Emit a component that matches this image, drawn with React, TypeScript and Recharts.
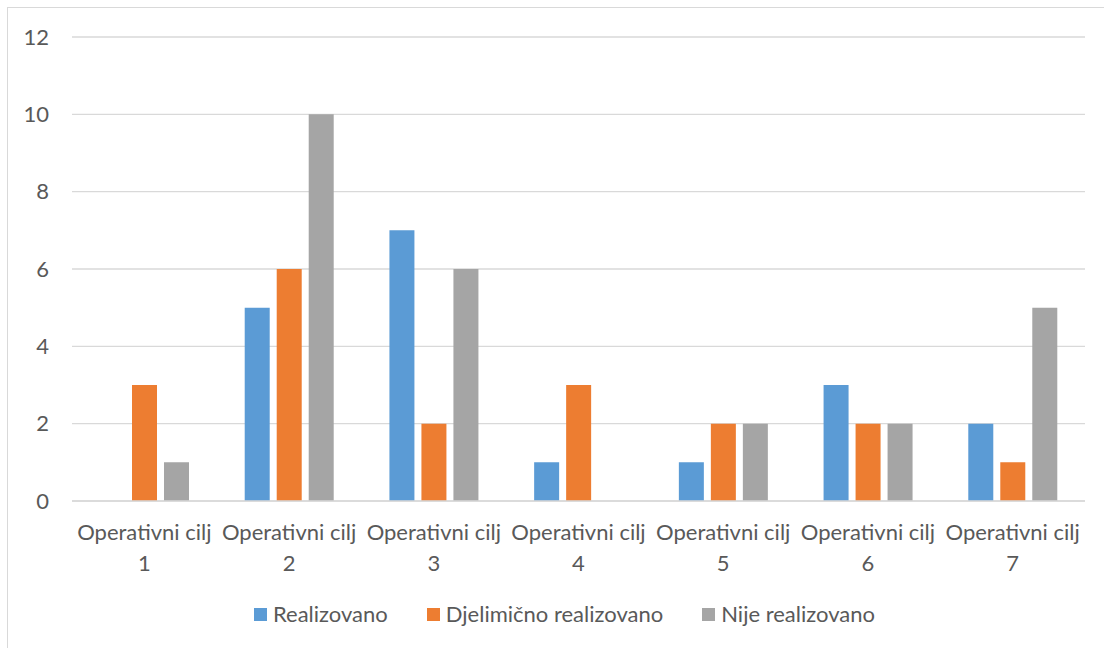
import React from 'react';
import { BarChart, Bar, XAxis, YAxis, CartesianGrid, Legend } from 'recharts';

const categories = [
  'Operativni cilj 1',
  'Operativni cilj 2',
  'Operativni cilj 3',
  'Operativni cilj 4',
  'Operativni cilj 5',
  'Operativni cilj 6',
  'Operativni cilj 7',
];
const realizovano = [0, 5, 7, 1, 1, 3, 2];
const djelimicno = [3, 6, 2, 3, 2, 2, 1];
const nijeRealizovano = [1, 10, 6, 0, 2, 2, 5];
const yTicks = [0, 2, 4, 6, 8, 10, 12];

const seriesNames = ['Realizovano', 'Djelimično realizovano', 'Nije realizovano'];
const seriesColors = ['#5B9BD5', '#ED7D31', '#A5A5A5'];

const data = categories.map((c, i) => ({
  name: c,
  r: realizovano[i],
  d: djelimicno[i],
  n: nijeRealizovano[i],
}));

const FONT = 'Lato, "Open Sans", sans-serif';
const TEXT = '#595959';
const FS = 22;

const XTick = (props: any) => {
  const { x, y, payload } = props;
  const s = String(payload.value);
  const i = s.lastIndexOf(' ');
  return (
    <text x={x} y={y} textAnchor="middle" fill={TEXT} fontSize={FS} fontFamily={FONT}>
      <tspan x={x} dy={31}>{s.slice(0, i)}</tspan>
      <tspan x={x} dy={31}>{s.slice(i + 1)}</tspan>
    </text>
  );
};

const LegendContent = () => (
  <div style={{ display: 'flex', alignItems: 'center', fontFamily: FONT, fontSize: FS, color: TEXT, paddingLeft: 254, lineHeight: '24px' }}>
    {seriesNames.map((n, i) => (
      <div key={n} style={{ display: 'flex', alignItems: 'center', marginRight: 39 }}>
        <span style={{ width: 13, height: 13, background: seriesColors[i], display: 'inline-block', marginRight: 6 }} />
        <span>{n}</span>
      </div>
    ))}
  </div>
);

export default function App() {
  return (
    <div style={{ position: 'absolute', left: 0, top: 0, width: 1104, height: 648, overflow: 'hidden', background: '#fff' }}>
      <div style={{ position: 'absolute', left: 7, top: 7, width: 1200, height: 700, border: '1px solid #D9D9D9' }} />
      <div style={{ position: 'absolute', left: 0, top: 0 }}>
        <BarChart
          width={1104}
          height={648}
          data={data}
          margin={{ top: 37, right: 19, left: 0, bottom: 67 }}
          barCategoryGap={28}
          barGap={7}
        >
          <CartesianGrid vertical={false} stroke="#D9D9D9" strokeWidth={1.3} />
          <XAxis
            dataKey="name"
            axisLine={{ stroke: '#D9D9D9', strokeWidth: 1.3 }}
            tickLine={false}
            tick={<XTick />}
            height={80}
            interval={0}
          />
          <YAxis
            domain={[0, 12]}
            ticks={yTicks}
            axisLine={false}
            tickLine={false}
            width={72}
            tickMargin={17}
            tick={{ fill: TEXT, fontSize: FS, fontFamily: FONT }}
          />
          <Legend
            verticalAlign="middle"
            layout="horizontal"
            align="center"
            wrapperStyle={{ top: 602, left: 0, width: 1104 }}
            content={<LegendContent />}
          />
          <Bar dataKey="r" name={seriesNames[0]} fill={seriesColors[0]} isAnimationActive={false} />
          <Bar dataKey="d" name={seriesNames[1]} fill={seriesColors[1]} isAnimationActive={false} />
          <Bar dataKey="n" name={seriesNames[2]} fill={seriesColors[2]} isAnimationActive={false} />
        </BarChart>
      </div>
    </div>
  );
}
